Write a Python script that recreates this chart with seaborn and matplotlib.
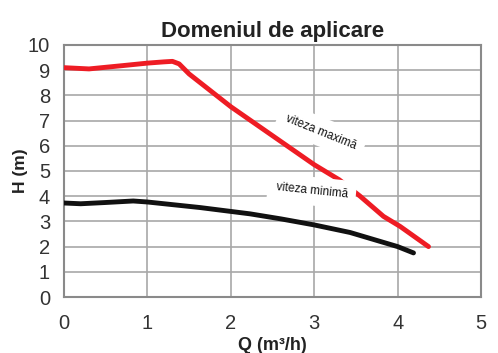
import matplotlib
matplotlib.use("Agg")
import matplotlib.pyplot as plt
import seaborn as sns
import pandas as pd

# Curve data (Q in m3/h, H in m)
q_max = [0.0, 0.3, 0.7, 1.0, 1.2, 1.3, 1.38, 1.5, 2.0, 2.5, 3.0, 3.3, 3.55, 3.83, 4.03, 4.2, 4.37]
h_max = [9.1, 9.05, 9.18, 9.28, 9.33, 9.35, 9.25, 8.85, 7.55, 6.4, 5.25, 4.65, 4.0, 3.2, 2.8, 2.4, 2.0]
q_min = [0.0, 0.2, 0.5, 0.83, 1.0, 1.63, 2.23, 2.6, 3.0, 3.43, 4.0, 4.19]
h_min = [3.73, 3.7, 3.75, 3.81, 3.77, 3.55, 3.3, 3.1, 2.86, 2.56, 2.0, 1.75]

x_ticks = [0, 1, 2, 3, 4, 5]
y_ticks = list(range(0, 11))

title = "Domeniul de aplicare"
x_label = "Q (m³/h)"
y_label = "H (m)"
label_max = "viteza maximă"
label_min = "viteza minimă"

sns.set_style("white")
plt.rcParams["font.family"] = ["Liberation Sans", "DejaVu Sans"]

fig = plt.figure(figsize=(4.98, 3.53), dpi=100)
ax = fig.add_axes([0.1285, 0.1586, 0.8375, 0.714])

df_max = pd.DataFrame({"Q": q_max, "H": h_max})
df_min = pd.DataFrame({"Q": q_min, "H": h_min})
sns.lineplot(data=df_max, x="Q", y="H", ax=ax, color="#ee1c24", linewidth=3.5,
             solid_capstyle="round", solid_joinstyle="round", zorder=3)
sns.lineplot(data=df_min, x="Q", y="H", ax=ax, color="#111111", linewidth=3.5,
             solid_capstyle="round", solid_joinstyle="round", zorder=3)

ax.set_xlim(0, 5)
ax.set_ylim(0, 10)
ax.set_xticks(x_ticks)
ax.set_yticks(y_ticks)
ax.tick_params(axis="both", labelsize=14.5, colors="#8a8a8a", length=4, width=1,
               labelcolor="#333333")
ax.tick_params(axis="x", pad=8)
ax.tick_params(axis="y", pad=6)
ax.grid(True, color="#a8a8a8", linewidth=1.2)
ax.set_axisbelow(True)
for s in ax.spines.values():
    s.set_color("#8a8a8a")
    s.set_linewidth(1.5)

ax.set_title(title, fontsize=16, fontweight="bold", pad=6, color="#222222")
ax.set_xlabel(x_label, fontsize=13, fontweight="bold", labelpad=3, color="#222222")
ax.set_ylabel(y_label, fontsize=12.5, fontweight="bold", labelpad=0, color="#222222")

box = dict(boxstyle="square,pad=0.7", facecolor="white", edgecolor="none")
ax.text(3.08, 6.55, label_max, fontsize=8.5, rotation=-22, ha="center", va="center",
        bbox=box, zorder=4, color="#111111")
ax.text(2.97, 4.2, label_min, fontsize=8.5, rotation=-6, ha="center", va="center",
        bbox=box, zorder=4, color="#111111")

fig.savefig("out.png", dpi=100)
